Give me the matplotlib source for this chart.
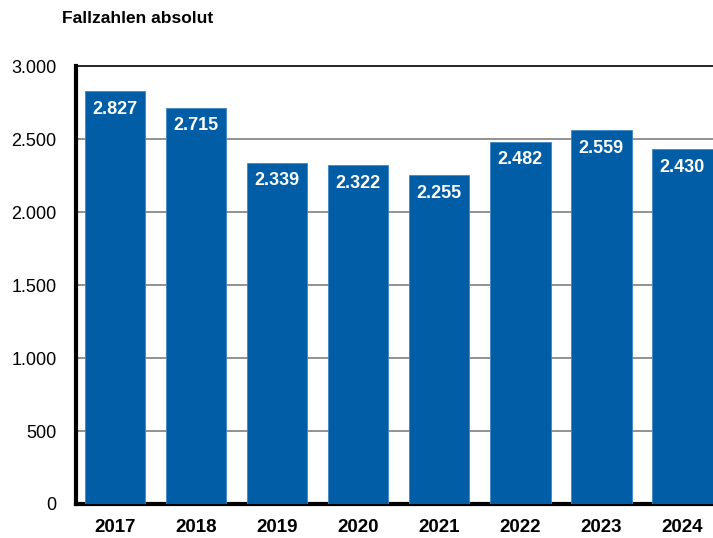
import matplotlib.pyplot as plt
from matplotlib.ticker import FuncFormatter

plt.rcParams['font.family'] = ['Liberation Sans', 'DejaVu Sans']

years = ['2017', '2018', '2019', '2020', '2021', '2022', '2023', '2024']
cases = [2827, 2715, 2339, 2322, 2255, 2482, 2559, 2430]
yticks = [0, 500, 1000, 1500, 2000, 2500, 3000]

BAR_COLOR = '#005DA6'

fig = plt.figure(figsize=(7.13, 5.38), dpi=100, facecolor='white')
ax = fig.add_axes([0.1066, 0.0632, 0.8934, 0.8141])

x = list(range(len(years)))
ax.bar(x, cases, width=0.75, color=BAR_COLOR, edgecolor='#3f86c4', linewidth=0.6, zorder=3)

# value labels inside the bars
for xi, v in zip(x, cases):
    ax.text(xi, v - 125, f"{v:,}".replace(',', '.'), ha='center', va='center',
            color='white', fontsize=13, fontweight='bold', zorder=4)

ax.set_xlim(-0.48, 7.38)
ax.set_ylim(0, 3000)
ax.set_yticks(yticks)
ax.yaxis.set_major_formatter(FuncFormatter(lambda v, p: f"{int(v):,}".replace(',', '.')))
ax.set_xticks(x)
ax.set_xticklabels(years, fontweight='bold', fontsize=13.5)

for t in yticks[1:-1]:
    ax.axhline(t, color='#7f7f7f', linewidth=1.2, zorder=1)
ax.axhline(3000, color='black', linewidth=1.2, zorder=1, clip_on=False)

for s in ['top', 'right']:
    ax.spines[s].set_visible(False)
ax.spines['left'].set_linewidth(3)
ax.spines['bottom'].set_linewidth(3)
ax.tick_params(axis='both', length=0, colors='black')
ax.tick_params(axis='y', labelsize=13, pad=14)
ax.tick_params(axis='x', pad=11)

fig.text(0.087, 0.966, 'Fallzahlen absolut', fontsize=12.5, fontweight='bold', va='center', ha='left')

fig.savefig('out.png', dpi=100, facecolor='white')
